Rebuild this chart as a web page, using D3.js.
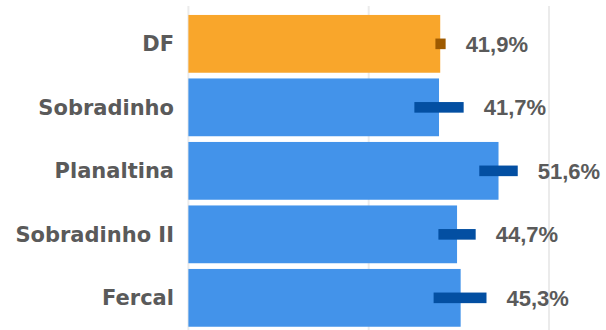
<!DOCTYPE html>
<html>
<head>
<meta charset="utf-8">
<script src="https://cdn.jsdelivr.net/npm/d3@7"></script>
<style>
  html, body { margin: 0; padding: 0; background: #ffffff; }
  svg { display: block; }
</style>
</head>
<body>
<svg id="chart" width="606" height="330"></svg>
<script>
const categories = ["DF", "Sobradinho", "Planaltina", "Sobradinho II", "Fercal"];
const values = [41.9, 41.7, 51.6, 44.7, 45.3];
const lower = [41.1, 37.6, 48.4, 41.6, 40.8];
const upper = [42.8, 45.8, 54.8, 47.8, 49.6];
const valueLabels = ["41,9%", "41,7%", "51,6%", "44,7%", "45,3%"];
const gridTicks = [0, 30, 60];

const W = 606, H = 330;
const svg = d3.select("#chart");

const x = d3.scaleLinear().domain([0, 70]).range([188.4, 609.1]);
const y = d3.scaleBand().domain(categories).range([12.1, 329.6])
  .paddingInner(0.09).paddingOuter(0.045);

const data = categories.map((c, i) => ({
  cat: c, v: values[i], lo: lower[i], hi: upper[i], label: valueLabels[i], i
}));

// grid lines
svg.append("g").selectAll("line").data(gridTicks).join("line")
  .attr("x1", d => x(d)).attr("x2", d => x(d))
  .attr("y1", 6).attr("y2", H)
  .attr("stroke", "#ebebeb").attr("stroke-width", 2);

// bars
svg.append("g").selectAll("rect").data(data).join("rect")
  .attr("x", x(0))
  .attr("y", d => y(d.cat))
  .attr("width", d => x(d.v) - x(0))
  .attr("height", y.bandwidth())
  .attr("fill", d => d.i === 0 ? "#f9a62b" : "#4393ea");

// error bars
const ebH = 10.6;
svg.append("g").selectAll("rect").data(data).join("rect")
  .attr("x", d => x(d.lo))
  .attr("y", d => y(d.cat) + y.bandwidth() / 2 - ebH / 2)
  .attr("width", d => x(d.hi) - x(d.lo))
  .attr("height", ebH)
  .attr("fill", d => d.i === 0 ? "#9e5a00" : "#034fa2");

// category labels
svg.append("g").selectAll("text").data(data).join("text")
  .attr("x", 174)
  .attr("y", d => y(d.cat) + y.bandwidth() / 2)
  .attr("dy", "0.36em")
  .attr("text-anchor", "end")
  .attr("font-family", "'DejaVu Sans', sans-serif")
  .attr("font-weight", "bold")
  .attr("font-size", 21)
  .attr("fill", "#5a5a5a")
  .text(d => d.cat);

// value labels
svg.append("g").selectAll("text").data(data).join("text")
  .attr("x", d => x(d.hi) + 20)
  .attr("y", d => y(d.cat) + y.bandwidth() / 2)
  .attr("dy", "0.36em")
  .attr("font-family", "'Liberation Sans', Arial, sans-serif")
  .attr("font-weight", "bold")
  .attr("font-size", 22)
  .attr("fill", "#5a5a5a")
  .text(d => d.label);
</script>
</body>
</html>
